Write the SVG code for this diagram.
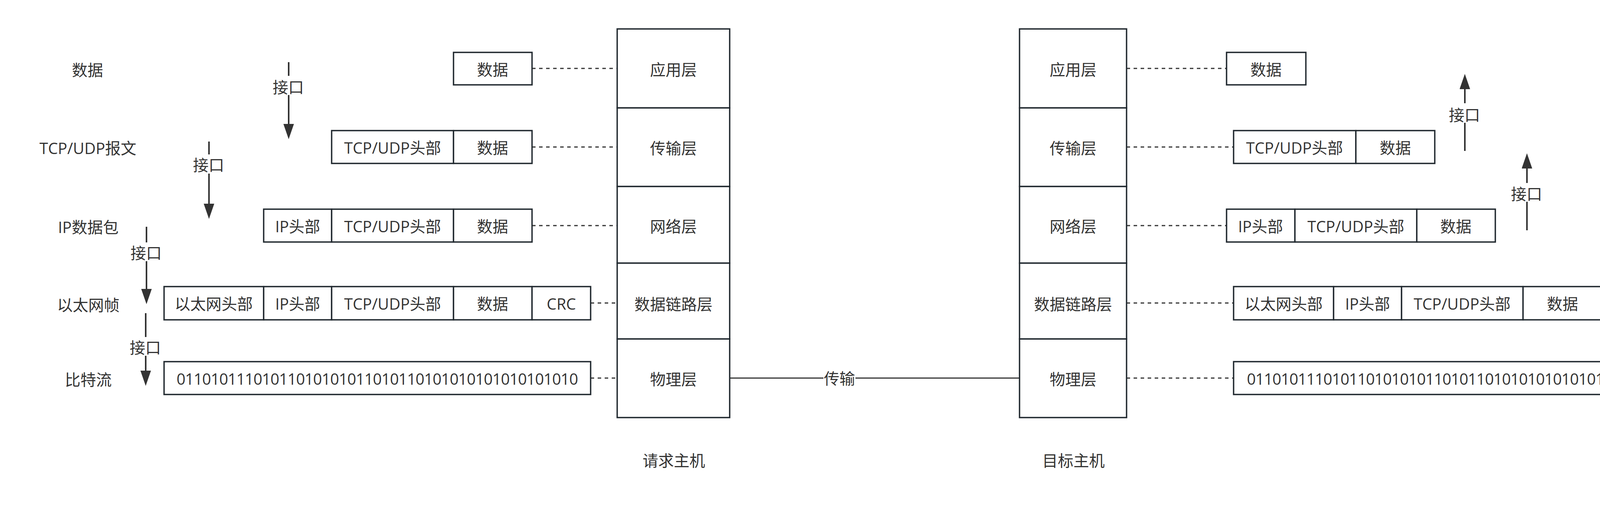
<svg xmlns="http://www.w3.org/2000/svg" width="4691" height="1307" viewBox="0 0 4691 1307">
<style>
  text { font-family: "Open Sans", "Noto Sans CJK SC", sans-serif; font-size: 40px; fill: #333333; text-anchor: middle; dominant-baseline: central; }
  .box { fill: #ffffff; stroke: #222a30; stroke-width: 3.5; }
  .dash { fill: none; stroke: #333333; stroke-width: 3; stroke-dasharray: 9 9; }
  .line { fill: none; stroke: #333333; stroke-width: 3; }
  .arrow { fill: none; stroke: #333333; stroke-width: 4; marker-end: url(#head); }
  .seg { fill: none; stroke: #333333; stroke-width: 4; }
</style>
<defs>
  <marker id="head" markerUnits="userSpaceOnUse" markerWidth="40" markerHeight="28" refX="0" refY="13.5" orient="auto">
    <path d="M0,0 L39,13.5 L0,27 Z" fill="#333333"/>
  </marker>
</defs>
<rect x="0" y="0" width="4691" height="1307" fill="#ffffff"/>

<!-- side labels -->
<g id="labels-left">
  <text x="224" y="178">数据</text>
  <text x="225" y="378">TCP/UDP报文</text>
  <text x="226" y="580">IP数据包</text>
  <text x="226" y="779">以太网帧</text>
  <text x="226" y="970">比特流</text>
</g>
<g id="labels-right">
  <text x="4467" y="162">数据</text>
  <text x="4467" y="361">TCP/UDP报文</text>
  <text x="4467" y="563">IP数据包</text>
  <text x="4467" y="761">以太网帧</text>
  <text x="4467" y="953">比特流</text>
</g>

<!-- connectors -->
<g id="connectors">
  <!-- left dashed -->
  <line class="dash" x1="1362" y1="175" x2="1580" y2="175"/>
  <line class="dash" x1="1362" y1="376" x2="1580" y2="376"/>
  <line class="dash" x1="1362" y1="577" x2="1580" y2="577"/>
  <line class="dash" x1="1512" y1="775" x2="1580" y2="775"/>
  <line class="dash" x1="1512" y1="967" x2="1580" y2="967"/>
  <!-- right dashed -->
  <line class="dash" x1="2884" y1="175" x2="3140" y2="175"/>
  <line class="dash" x1="2884" y1="376" x2="3158" y2="376"/>
  <line class="dash" x1="2884" y1="577" x2="3140" y2="577"/>
  <line class="dash" x1="2884" y1="775" x2="3158" y2="775"/>
  <line class="dash" x1="2884" y1="967" x2="3158" y2="967"/>
  <!-- transmission -->
  <g id="edge-transmit">
    <line class="line" x1="1868" y1="967" x2="2108" y2="967"/>
    <line class="line" x1="2190" y1="967" x2="2610" y2="967"/>
    <text x="2149" y="967">传输</text>
  </g>
  <!-- left down arrows -->
  <g id="edge-l1">
    <line class="seg" x1="739" y1="159" x2="739" y2="194"/>
    <line class="arrow" x1="739" y1="243" x2="739" y2="317"/>
    <text x="738" y="222">接口</text>
  </g>
  <g id="edge-l2">
    <line class="seg" x1="535" y1="362" x2="535" y2="395"/>
    <line class="arrow" x1="535" y1="444" x2="535" y2="521"/>
    <text x="534" y="421">接口</text>
  </g>
  <g id="edge-l3">
    <line class="seg" x1="375" y1="580" x2="375" y2="620"/>
    <line class="arrow" x1="375" y1="668" x2="375" y2="739"/>
    <text x="374" y="646">接口</text>
  </g>
  <g id="edge-l4">
    <line class="seg" x1="373" y1="801" x2="373" y2="862"/>
    <line class="arrow" x1="373" y1="910" x2="373" y2="948"/>
    <text x="372" y="888">接口</text>
  </g>
  <!-- right up arrows -->
  <g id="edge-r1">
    <line class="seg" x1="3750" y1="386" x2="3750" y2="314"/>
    <line class="arrow" x1="3750" y1="264" x2="3750" y2="228"/>
    <text x="3749" y="293">接口</text>
  </g>
  <g id="edge-r2">
    <line class="seg" x1="3909" y1="589" x2="3909" y2="516"/>
    <line class="arrow" x1="3909" y1="468" x2="3909" y2="431"/>
    <text x="3908" y="495">接口</text>
  </g>
  <g id="edge-r3">
    <line class="seg" x1="4299" y1="792" x2="4299" y2="720"/>
    <line class="arrow" x1="4299" y1="670" x2="4299" y2="634"/>
    <text x="4298" y="699">接口</text>
  </g>
  <g id="edge-r4">
    <line class="seg" x1="4303" y1="1015" x2="4303" y2="943"/>
    <line class="arrow" x1="4303" y1="895" x2="4303" y2="857"/>
    <text x="4302" y="921">接口</text>
  </g>
</g>

<!-- left host stack -->
<g id="host-request">
  <g id="req-app"><rect class="box" x="1580" y="74" width="288" height="202"/><text x="1724" y="177">应用层</text></g>
  <g id="req-trans"><rect class="box" x="1580" y="276" width="288" height="201"/><text x="1724" y="378">传输层</text></g>
  <g id="req-net"><rect class="box" x="1580" y="477" width="288" height="196"/><text x="1724" y="578">网络层</text></g>
  <g id="req-link"><rect class="box" x="1580" y="673" width="288" height="194"/><text x="1724" y="777">数据链路层</text></g>
  <g id="req-phy"><rect class="box" x="1580" y="867" width="288" height="201"/><text x="1724" y="969">物理层</text></g>
  <text x="1725" y="1177">请求主机</text>
</g>

<!-- right host stack -->
<g id="host-target">
  <g id="tgt-app"><rect class="box" x="2610" y="74" width="274" height="202"/><text x="2747" y="177">应用层</text></g>
  <g id="tgt-trans"><rect class="box" x="2610" y="276" width="274" height="201"/><text x="2747" y="378">传输层</text></g>
  <g id="tgt-net"><rect class="box" x="2610" y="477" width="274" height="196"/><text x="2747" y="578">网络层</text></g>
  <g id="tgt-link"><rect class="box" x="2610" y="673" width="274" height="194"/><text x="2747" y="777">数据链路层</text></g>
  <g id="tgt-phy"><rect class="box" x="2610" y="867" width="274" height="201"/><text x="2747" y="969">物理层</text></g>
  <text x="2748" y="1177">目标主机</text>
</g>

<!-- left packets -->
<g id="l-data">
  <rect class="box" x="1161" y="134" width="201" height="83"/><text x="1261" y="177">数据</text>
</g>
<g id="l-tcp">
  <rect class="box" x="849" y="334" width="312" height="84"/><text x="1005" y="377">TCP/UDP头部</text>
  <rect class="box" x="1161" y="334" width="201" height="84"/><text x="1261" y="377">数据</text>
</g>
<g id="l-ip">
  <rect class="box" x="675" y="535" width="174" height="84"/><text x="762" y="578">IP头部</text>
  <rect class="box" x="849" y="535" width="312" height="84"/><text x="1005" y="578">TCP/UDP头部</text>
  <rect class="box" x="1161" y="535" width="201" height="84"/><text x="1261" y="578">数据</text>
</g>
<g id="l-eth">
  <rect class="box" x="420" y="733" width="255" height="85"/><text x="547" y="776">以太网头部</text>
  <rect class="box" x="675" y="733" width="174" height="85"/><text x="762" y="776">IP头部</text>
  <rect class="box" x="849" y="733" width="312" height="85"/><text x="1005" y="776">TCP/UDP头部</text>
  <rect class="box" x="1161" y="733" width="201" height="85"/><text x="1261" y="776">数据</text>
  <rect class="box" x="1362" y="733" width="150" height="85"/><text x="1437" y="776">CRC</text>
</g>
<g id="l-bits">
  <rect class="box" x="420" y="925" width="1092" height="84"/><text x="966" y="968" textLength="1028" lengthAdjust="spacing">01101011101011010101011010110101010101010101010</text>
</g>

<!-- right packets -->
<g id="r-data">
  <rect class="box" x="3140" y="134" width="203" height="83"/><text x="3241" y="177">数据</text>
</g>
<g id="r-tcp">
  <rect class="box" x="3158" y="334" width="313" height="84"/><text x="3314" y="377">TCP/UDP头部</text>
  <rect class="box" x="3471" y="334" width="202" height="84"/><text x="3572" y="377">数据</text>
</g>
<g id="r-ip">
  <rect class="box" x="3140" y="535" width="175" height="84"/><text x="3227" y="578">IP头部</text>
  <rect class="box" x="3315" y="535" width="312" height="84"/><text x="3471" y="578">TCP/UDP头部</text>
  <rect class="box" x="3627" y="535" width="201" height="84"/><text x="3727" y="578">数据</text>
</g>
<g id="r-eth">
  <rect class="box" x="3158" y="733" width="256" height="85"/><text x="3286" y="776">以太网头部</text>
  <rect class="box" x="3414" y="733" width="174" height="85"/><text x="3501" y="776">IP头部</text>
  <rect class="box" x="3588" y="733" width="311" height="85"/><text x="3743" y="776">TCP/UDP头部</text>
  <rect class="box" x="3899" y="733" width="202" height="85"/><text x="4000" y="776">数据</text>
  <rect class="box" x="4101" y="733" width="150" height="85"/><text x="4176" y="776">CRC</text>
</g>
<g id="r-bits">
  <rect class="box" x="3158" y="925" width="1093" height="84"/><text x="3704" y="968" textLength="1024" lengthAdjust="spacing">01101011101011010101011010110101010101010101010</text>
</g>
</svg>
